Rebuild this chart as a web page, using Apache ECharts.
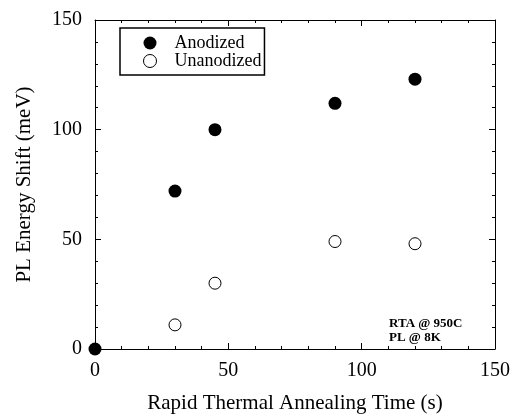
<!DOCTYPE html>
<html>
<head>
<meta charset="utf-8">
<script src="https://cdn.jsdelivr.net/npm/echarts@6/dist/echarts.min.js"></script>
<style>html,body{margin:0;padding:0;background:#fff;}#c{width:514px;height:419px;}</style>
</head>
<body>
<div id="c"></div>
<script>
var anodizedX = [0, 30, 45, 90, 120];
var anodizedY = [0, 72, 100, 112, 123];
var unanodizedX = [30, 45, 90, 120];
var unanodizedY = [11, 30, 49, 48];
var seriesNames = ['Anodized', 'Unanodized'];
var xTicks = [0, 50, 100, 150];
var yTicks = [0, 50, 100, 150];
var annotationLines = ['RTA @ 950C', 'PL @ 8K'];

function pairs(xs, ys) { return xs.map(function (x, i) { return [x, ys[i]]; }); }

var font = '"Liberation Serif","DejaVu Serif",serif';
var chart = echarts.init(document.getElementById('c'));
function axisBase(showLabel, pos) {
  return {
    min: xTicks[0], max: xTicks[xTicks.length - 1], interval: 50,
    position: pos,
    axisLine: { show: true, onZero: false, lineStyle: { color: '#000', width: 1 } },
    axisTick: { show: true, inside: true, length: 6, lineStyle: { color: '#000' } },
    minorTick: { show: true, splitNumber: 5, length: 3, lineStyle: { color: '#000' } },
    splitLine: { show: false },
    axisLabel: { show: showLabel, color: '#000', fontFamily: font, fontSize: 20, margin: 12 }
  };
}
var xBottom = axisBase(true, 'bottom');
xBottom.name = 'Rapid Thermal Annealing Time (s)';
xBottom.nameLocation = 'middle';
xBottom.nameGap = 44;
xBottom.nameTextStyle = { color: '#000', fontFamily: font, fontSize: 21 };
var xTop = axisBase(false, 'top');
var yLeft = axisBase(true, 'left');
yLeft.min = yTicks[0]; yLeft.max = yTicks[yTicks.length - 1];
yLeft.axisLabel.margin = 13;
yLeft.name = 'PL Energy Shift (meV)';
yLeft.nameLocation = 'middle';
yLeft.nameGap = 60;
yLeft.nameTextStyle = { color: '#000', fontFamily: font, fontSize: 21 };
var yRight = axisBase(false, 'right');
yRight.min = yTicks[0]; yRight.max = yTicks[yTicks.length - 1];

chart.setOption({
  animation: false,
  backgroundColor: '#fff',
  grid: { left: 95, right: 19, top: 20, bottom: 64, containLabel: false },
  xAxis: [xBottom, xTop],
  yAxis: [yLeft, yRight],
  legend: {
    left: 120, top: 28, orient: 'vertical',
    data: [
      { name: seriesNames[0], icon: 'circle', itemStyle: { color: '#000', opacity: 1 } },
      { name: seriesNames[1], icon: 'circle', itemStyle: { color: '#fff', borderColor: '#000', borderWidth: 1, opacity: 1 } }
    ],
    itemWidth: 13, itemHeight: 13, itemGap: 0,
    padding: [6, 3, 5, 23],
    borderColor: '#000', borderWidth: 1.5, borderRadius: 0,
    textStyle: { color: '#000', fontFamily: font, fontSize: 18, lineHeight: 18, padding: [0, 0, 0, 13] }
  },
  graphic: [{
    type: 'text', left: 389, top: 317,
    style: { text: annotationLines.join('\n'), fill: '#000', font: 'bold 13px ' + font, lineHeight: 14 }
  }],
  series: [{
    name: seriesNames[0], type: 'scatter', data: pairs(anodizedX, anodizedY),
    symbol: 'circle', symbolSize: 13, clip: false,
    itemStyle: { color: '#000', opacity: 1 }
  }, {
    name: seriesNames[1], type: 'scatter', data: pairs(unanodizedX, unanodizedY),
    symbol: 'circle', symbolSize: 12, clip: false,
    itemStyle: { color: '#fff', borderColor: '#000', borderWidth: 1, opacity: 1 }
  }]
});
</script>
</body>
</html>
